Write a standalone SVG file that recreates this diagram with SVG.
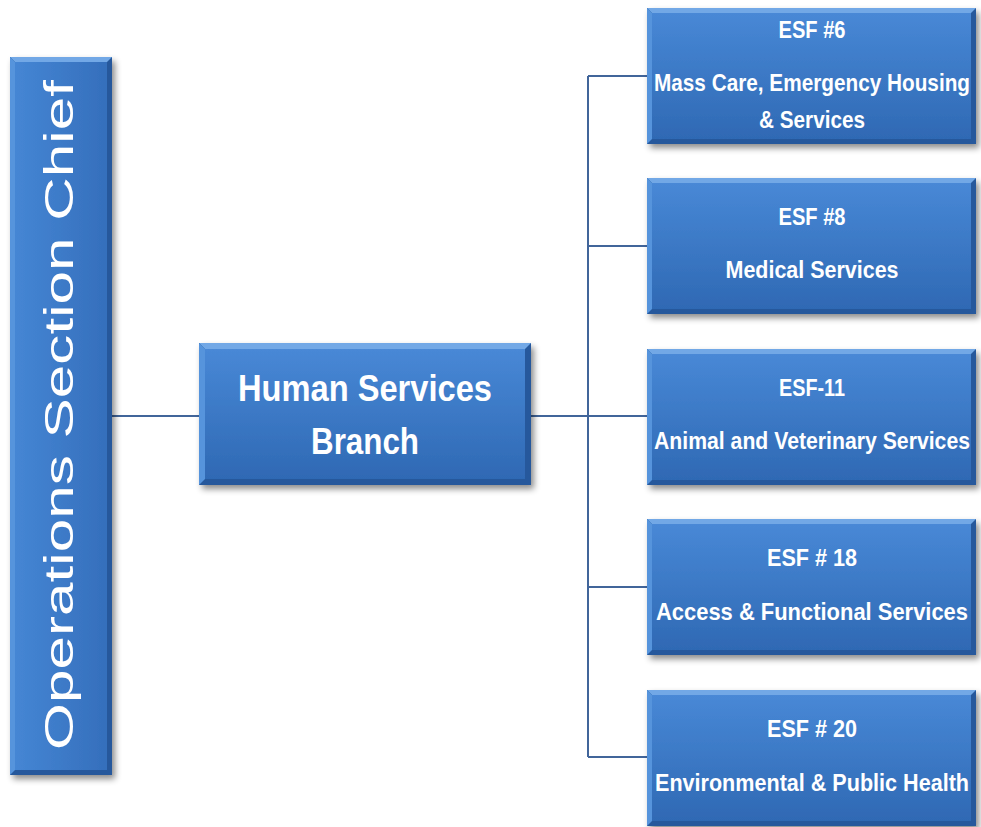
<svg xmlns="http://www.w3.org/2000/svg" width="981" height="827" viewBox="0 0 981 827">
  <defs>
    <linearGradient id="faceV" x1="0" y1="0" x2="0" y2="1">
      <stop offset="0" stop-color="#4888d6"/>
      <stop offset="1" stop-color="#2f69b4"/>
    </linearGradient>
    <linearGradient id="faceH" x1="0" y1="0" x2="1" y2="0">
      <stop offset="0" stop-color="#4586d4"/>
      <stop offset="1" stop-color="#356fbc"/>
    </linearGradient>
    <filter id="shadow" x="-10%" y="-10%" width="125%" height="130%">
      <feDropShadow dx="3" dy="4" stdDeviation="3" flood-color="#000" flood-opacity="0.45"/>
    </filter>
  </defs>
  <style>
    .base { fill: #25589c; }
    .bevT { fill: #72a8e6; }
    .bevL { fill: #5794dc; }
    .face { fill: url(#faceV); }
    .faceBar { fill: url(#faceH); }
    .box { filter: url(#shadow); }
    .lbl { font-family: "Liberation Sans Narrow", "Liberation Sans", Arial, sans-serif; font-weight: bold; fill: #ffffff; text-anchor: middle; }
    .esf { font-size: 24px; }
    .big { font-size: 36px; }
    .vert { font-family: "Liberation Sans", Arial, sans-serif; font-size: 40px; fill: #ffffff; text-anchor: middle; }
    .wire { fill: none; stroke: #41659a; stroke-width: 2; }
  </style>

  <rect width="981" height="827" fill="#ffffff"/>

  <!-- connectors -->
  <g id="connectors">
    <path class="wire" d="M112 416 H199"/>
    <path class="wire" d="M531 416 H647"/>
    <path class="wire" d="M588 76 V757"/>
    <path class="wire" d="M588 76 H647"/>
    <path class="wire" d="M588 246 H647"/>
    <path class="wire" d="M588 587 H647"/>
    <path class="wire" d="M588 757 H647"/>
  </g>

  <!-- Operations Section Chief (vertical bar) -->
  <g id="ops-chief">
    <g class="box">
      <rect class="base" x="10" y="57" width="102" height="718"/>
      <path class="bevT" d="M10 57 H112 L107 62 H15 Z"/>
      <path class="bevL" d="M10 57 L15 62 V770 L10 775 Z"/>
      <rect class="faceBar" x="15" y="62" width="92" height="708"/>
    </g>
    <text class="vert" transform="translate(73 415) rotate(-90)" textLength="670" lengthAdjust="spacingAndGlyphs">Operations Section Chief</text>
  </g>

  <!-- Human Services Branch -->
  <g id="human-services-branch">
    <g class="box">
      <rect class="base" x="199" y="343" width="332" height="142"/>
      <path class="bevT" d="M199 343 H531 L525 349 H205 Z"/>
      <path class="bevL" d="M199 343 L205 349 V479 L199 485 Z"/>
      <rect class="face" x="205" y="349" width="320" height="130"/>
    </g>
    <text class="lbl big" x="365" y="401" textLength="254" lengthAdjust="spacingAndGlyphs">Human Services</text>
    <text class="lbl big" x="365" y="454" textLength="108" lengthAdjust="spacingAndGlyphs">Branch</text>
  </g>

  <!-- ESF #6 -->
  <g id="esf-6">
    <g class="box">
      <rect class="base" x="647" y="8" width="329" height="136"/>
      <path class="bevT" d="M647 8 H976 L971 13 H652 Z"/>
      <path class="bevL" d="M647 8 L652 13 V139 L647 144 Z"/>
      <rect class="face" x="652" y="13" width="319" height="126"/>
    </g>
    <text class="lbl esf" x="812" y="38" textLength="67" lengthAdjust="spacingAndGlyphs">ESF #6</text>
    <text class="lbl esf" x="812" y="91" textLength="316" lengthAdjust="spacingAndGlyphs">Mass Care, Emergency Housing</text>
    <text class="lbl esf" x="812" y="128" textLength="106" lengthAdjust="spacingAndGlyphs">&amp; Services</text>
  </g>

  <!-- ESF #8 -->
  <g id="esf-8">
    <g class="box">
      <rect class="base" x="647" y="178" width="329" height="136"/>
      <path class="bevT" d="M647 178 H976 L971 183 H652 Z"/>
      <path class="bevL" d="M647 178 L652 183 V309 L647 314 Z"/>
      <rect class="face" x="652" y="183" width="319" height="126"/>
    </g>
    <text class="lbl esf" x="812" y="225" textLength="67" lengthAdjust="spacingAndGlyphs">ESF #8</text>
    <text class="lbl esf" x="812" y="278" textLength="173" lengthAdjust="spacingAndGlyphs">Medical Services</text>
  </g>

  <!-- ESF-11 -->
  <g id="esf-11">
    <g class="box">
      <rect class="base" x="647" y="349" width="329" height="136"/>
      <path class="bevT" d="M647 349 H976 L971 354 H652 Z"/>
      <path class="bevL" d="M647 349 L652 354 V480 L647 485 Z"/>
      <rect class="face" x="652" y="354" width="319" height="126"/>
    </g>
    <text class="lbl esf" x="812" y="396" textLength="66" lengthAdjust="spacingAndGlyphs">ESF-11</text>
    <text class="lbl esf" x="812" y="449" textLength="316" lengthAdjust="spacingAndGlyphs">Animal and Veterinary Services</text>
  </g>

  <!-- ESF # 18 -->
  <g id="esf-18">
    <g class="box">
      <rect class="base" x="647" y="519" width="329" height="136"/>
      <path class="bevT" d="M647 519 H976 L971 524 H652 Z"/>
      <path class="bevL" d="M647 519 L652 524 V650 L647 655 Z"/>
      <rect class="face" x="652" y="524" width="319" height="126"/>
    </g>
    <text class="lbl esf" x="812" y="566" textLength="90" lengthAdjust="spacingAndGlyphs">ESF # 18</text>
    <text class="lbl esf" x="812" y="620" textLength="312" lengthAdjust="spacingAndGlyphs">Access &amp; Functional Services</text>
  </g>

  <!-- ESF # 20 -->
  <g id="esf-20">
    <g class="box">
      <rect class="base" x="647" y="690" width="329" height="136"/>
      <path class="bevT" d="M647 690 H976 L971 695 H652 Z"/>
      <path class="bevL" d="M647 690 L652 695 V821 L647 826 Z"/>
      <rect class="face" x="652" y="695" width="319" height="126"/>
    </g>
    <text class="lbl esf" x="812" y="737" textLength="90" lengthAdjust="spacingAndGlyphs">ESF # 20</text>
    <text class="lbl esf" x="812" y="791" textLength="314" lengthAdjust="spacingAndGlyphs">Environmental &amp; Public Health</text>
  </g>
</svg>
